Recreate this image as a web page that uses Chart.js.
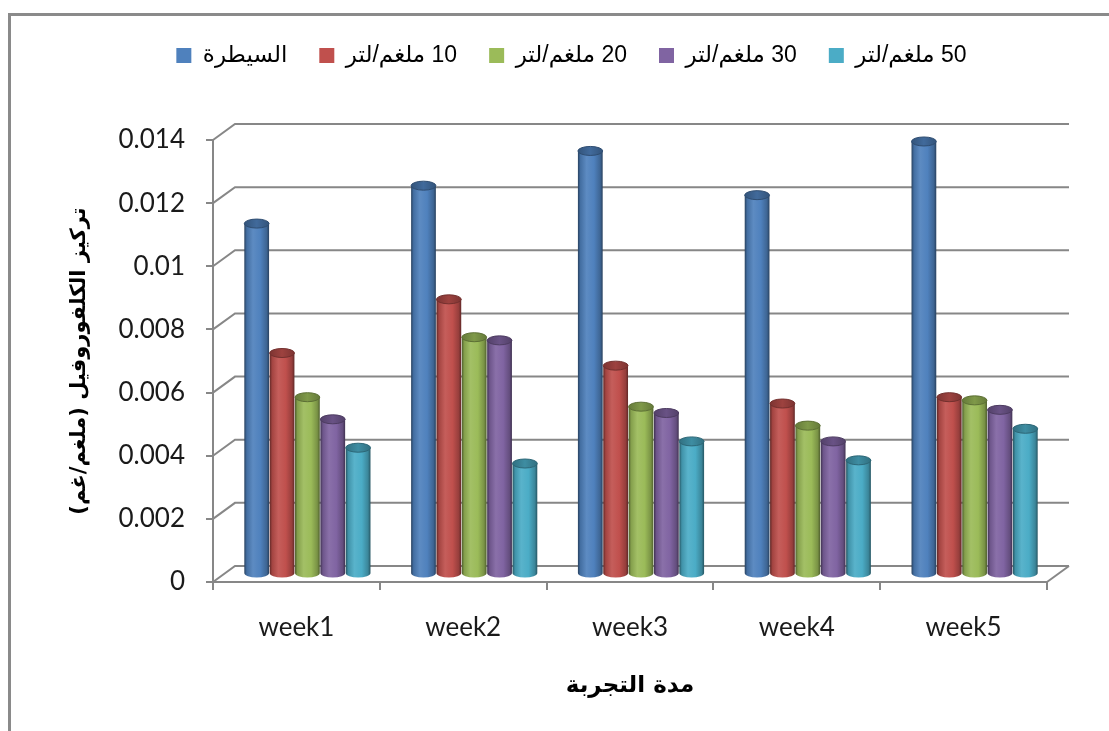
<!DOCTYPE html>
<html>
<head>
<meta charset="utf-8">
<script src="https://cdn.jsdelivr.net/npm/chart.js@4"></script>
<style>
  body { margin: 0; background: #fff; }
  #wrap { width: 1109px; height: 731px; }
</style>
</head>
<body>
<div id="wrap"><canvas id="myChart" width="1109" height="731" dir="rtl"></canvas></div>
<script>
const weeks = ["week1", "week2", "week3", "week4", "week5"];
const seriesNames = ["السيطرة", "10 ملغم/لتر", "20 ملغم/لتر", "30 ملغم/لتر", "50 ملغم/لتر"];
const control = [0.0111, 0.0123, 0.0134, 0.0120, 0.0137];
const conc10 = [0.0070, 0.0087, 0.0066, 0.0054, 0.0056];
const conc20 = [0.0056, 0.0075, 0.0053, 0.0047, 0.0055];
const conc30 = [0.0049, 0.0074, 0.0051, 0.0042, 0.0052];
const conc50 = [0.0040, 0.0035, 0.0042, 0.0036, 0.0046];
const yMax = 0.014;
const yStep = 0.002;
const yTitle = "تركيز الكلفوروفيل (ملغم/غم)";
const xTitle = "مدة التجربة";

const colors = ["#4F81BD", "#C0504D", "#9BBB59", "#8064A2", "#4BACC6"];
const allValues = [control, conc10, conc20, conc30, conc50];

// 3d depth of the back wall
const depthX = 22;
const depthY = -16;
const gridColor = "#878787";

function mix(hex, target, t) {
  const n = parseInt(hex.slice(1), 16);
  const r = (n >> 16) & 255, g = (n >> 8) & 255, b = n & 255;
  const f = (c) => Math.round(c + (target - c) * t);
  return `rgb(${f(r)},${f(g)},${f(b)})`;
}
const shade = (hex, t) => mix(hex, 0, t);
const tint = (hex, t) => mix(hex, 255, t);

function drawCylinder(ctx, cx, top, base, w, color) {
  const rx = w / 2 - 0.3;
  const ry = 4.5;
  const l = cx - rx, r = cx + rx;
  const g = ctx.createLinearGradient(l, 0, r, 0);
  g.addColorStop(0, shade(color, 0.5));
  g.addColorStop(0.1, shade(color, 0.15));
  g.addColorStop(0.35, tint(color, 0.08));
  g.addColorStop(0.65, color);
  g.addColorStop(0.9, shade(color, 0.22));
  g.addColorStop(1, shade(color, 0.5));
  ctx.fillStyle = g;
  ctx.beginPath();
  ctx.moveTo(l, top);
  ctx.lineTo(l, base);
  ctx.ellipse(cx, base, rx, ry, 0, Math.PI, 0, true);
  ctx.lineTo(r, top);
  ctx.closePath();
  ctx.fill();

  // top cap
  const cg = ctx.createLinearGradient(l, 0, r, 0);
  cg.addColorStop(0, shade(color, 0.35));
  cg.addColorStop(0.5, shade(color, 0.18));
  cg.addColorStop(1, shade(color, 0.35));
  ctx.fillStyle = cg;
  ctx.beginPath();
  ctx.ellipse(cx, top, rx, ry, 0, 0, Math.PI * 2);
  ctx.fill();
  ctx.strokeStyle = shade(color, 0.4);
  ctx.lineWidth = 1;
  ctx.stroke();
}

const wall3d = {
  id: "wall3d",
  beforeInit(chart) {
    const fit = chart.legend.fit;
    chart.legend.fit = function () {
      fit.call(this);
      this.height = 128;
    };
  },
  afterLayout(chart) {
    chart.legend.left += 48;
    chart.legend.right += 48;
  },
  beforeDraw(chart) {
    const ctx = chart.ctx;
    ctx.save();
    ctx.fillStyle = "#fff";
    ctx.fillRect(0, 0, chart.width, chart.height);
    ctx.strokeStyle = "#8a8a8a";
    ctx.lineWidth = 3;
    ctx.strokeRect(9.5, 14.5, 1200, 800);
    ctx.restore();
  },
  beforeDatasetsDraw(chart) {
    const { ctx, chartArea: a, scales: { y } } = chart;
    ctx.save();
    ctx.strokeStyle = gridColor;
    ctx.lineWidth = 2;
    y.ticks.forEach((t) => {
      const py = y.getPixelForValue(t.value);
      ctx.beginPath();
      ctx.moveTo(a.left, py);
      ctx.lineTo(a.left + depthX, py + depthY);
      ctx.lineTo(a.right + depthX, py + depthY);
      ctx.stroke();
    });
    ctx.beginPath();
    ctx.moveTo(a.right, a.bottom);
    ctx.lineTo(a.right + depthX, a.bottom + depthY);
    ctx.stroke();

    const n = chart.data.labels.length;
    for (let i = 0; i < n; i++) {
      chart.data.datasets.forEach((ds, di) => {
        const bar = chart.getDatasetMeta(di).data[i];
        const p = bar.getProps(["x", "y", "base", "width"], true);
        drawCylinder(ctx, p.x + depthX / 2, p.y + depthY / 2, p.base + depthY / 2, p.width, ds.backgroundColor);
      });
    }
    ctx.restore();
    return false;
  }
};

const data = {
  labels: weeks,
  datasets: seriesNames.map((name, i) => ({
    label: name,
    data: allValues[i],
    backgroundColor: colors[i],
    borderWidth: 0,
    categoryPercentage: 0.76,
    barPercentage: 1.0
  }))
};

const config = {
  type: "bar",
  data,
  options: {
    responsive: false,
    animation: false,
    layout: { padding: { left: 0, right: 62, top: 12, bottom: 0 } },
    plugins: {
      legend: {
        position: "top",
        labels: {
          font: { family: "'Liberation Sans', 'DejaVu Sans'", size: 23 },
          color: "#000",
          boxWidth: 15,
          boxHeight: 15,
          padding: 32
        }
      },
      tooltip: { enabled: false }
    },
    scales: {
      x: {
        afterFit: (s) => { s.height = 149; },
        grid: { drawOnChartArea: false, color: gridColor, lineWidth: 2, tickLength: 8 },
        border: { color: gridColor, width: 2 },
        ticks: {
          font: { family: "Lato", size: 26 },
          color: "#1a1a1a",
          padding: 22,
          maxRotation: 0
        },
        title: {
          display: true,
          text: xTitle,
          font: { family: "'DejaVu Sans'", size: 23, weight: "bold" },
          color: "#000",
          padding: { top: 0, bottom: 31 }
        }
      },
      y: {
        min: 0,
        max: yMax,
        afterFit: (s) => { s.width = 213; },
        grid: { drawOnChartArea: false, color: gridColor, lineWidth: 2, tickLength: 7 },
        border: { color: gridColor, width: 2 },
        ticks: {
          stepSize: yStep,
          font: { family: "Lato", size: 26 },
          color: "#1a1a1a",
          padding: 21,
          callback: (v) => String(+v.toFixed(3))
        },
        title: {
          display: true,
          text: yTitle,
          font: { family: "'DejaVu Sans'", size: 21, weight: "bold" },
          color: "#000",
          padding: { top: 67, bottom: 0 }
        }
      }
    }
  },
  plugins: [wall3d]
};

new Chart(document.getElementById("myChart"), config);
</script>
</body>
</html>
